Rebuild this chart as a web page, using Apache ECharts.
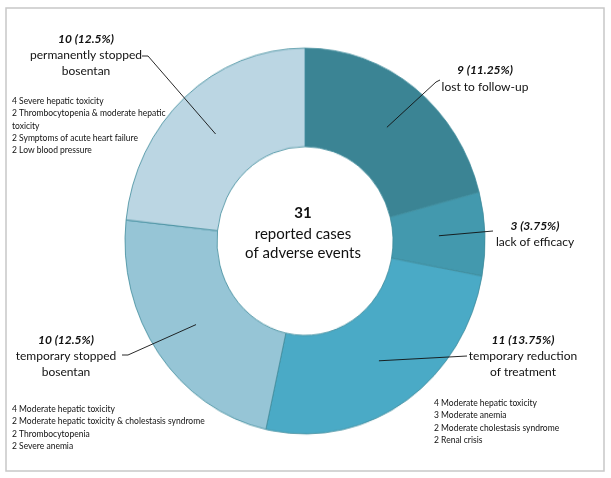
<!DOCTYPE html>
<html>
<head>
<meta charset="utf-8">
<script src="https://cdn.jsdelivr.net/npm/echarts@6/dist/echarts.min.js"></script>
<style>
html,body{margin:0;padding:0;background:#fff;}
#wrap{position:relative;width:611px;height:478px;overflow:hidden;}
#pie,#chart{position:absolute;left:0;top:0;width:611px;height:478px;}
#pie{transform-origin:305px 241px;transform:scaleY(1.072);}
</style>
</head>
<body>
<div id="wrap"><div id="pie"></div><div id="chart"></div></div>
<script>
// ---- data ----
const categories = ['lost to follow-up', 'lack of efficacy', 'temporary reduction of treatment', 'temporary stopped bosentan', 'permanently stopped bosentan'];
const counts = [9, 3, 11, 10, 10];
const percents = ['11.25%', '3.75%', '13.75%', '12.5%', '12.5%'];
const labelLines = [
  ['lost to follow-up'],
  ['lack of efficacy'],
  ['temporary reduction', 'of treatment'],
  ['temporary stopped', 'bosentan'],
  ['permanently stopped', 'bosentan']
];
const detailsReduction = ['4 Moderate hepatic toxicity', '3 Moderate anemia', '2 Moderate cholestasis syndrome', '2 Renal crisis'];
const detailsTempStopped = ['4 Moderate hepatic toxicity', '2 Moderate hepatic toxicity & cholestasis syndrome', '2 Thrombocytopenia', '2 Severe anemia'];
const detailsPermStopped = ['4 Severe hepatic toxicity', '2 Thrombocytopenia & moderate hepatic', 'toxicity', '2 Symptoms of acute heart failure', '2 Low blood pressure'];
const totalCases = 31;
const centerLines = ['reported cases', 'of adverse events'];

// ---- style / layout ----
const colors = ['#3b8494', '#4399ae', '#4aaac6', '#96c5d6', '#bbd6e3'];
const FONT = 'Lato, "Liberation Sans", sans-serif';
const cx = 305, cy = 241, rIn = 88, rOut = 180, yScale = 1.072;
const labelLayout = [
  { hx: 485, hy: 70, gap: 17, end: [[436, 82], [440, 80]] },
  { hx: 535, hy: 226, gap: 16, end: [[493, 231]] },
  { hx: 523, hy: 340, gap: 16, end: [[467, 356]] },
  { hx: 66, hy: 340, gap: 16, end: [[128, 355], [122, 355]] },
  { hx: 86, hy: 39, gap: 16, end: [[148, 56], [142, 56]] }
];
const detailBlocks = [
  { lines: detailsPermStopped, x: 12, y: 101 },
  { lines: detailsTempStopped, x: 12, y: 409 },
  { lines: detailsReduction, x: 434, y: 403 }
];

const total = counts.reduce((a, b) => a + b, 0);
const graphics = [];
graphics.push({
  type: 'rect', shape: { x: 6, y: 8, width: 598, height: 463 },
  style: { fill: 'none', stroke: '#c8c8c8', lineWidth: 1.5 }, z: 0
});
let acc = 0;
counts.forEach((v, i) => {
  const mid = (acc + v / 2) / total * Math.PI * 2;
  acc += v;
  const rm = 134;
  const sx = cx + rm * Math.sin(mid), sy = cy - rm * yScale * Math.cos(mid);
  const L = labelLayout[i];
  graphics.push({
    type: 'polyline', shape: { points: [[sx, sy]].concat(L.end) },
    style: { stroke: '#111', lineWidth: 0.9, fill: 'none' }, z: 10
  });
  graphics.push({
    type: 'text', z: 10,
    style: { text: counts[i] + ' (' + percents[i] + ')', x: L.hx, y: L.hy, textAlign: 'center', textVerticalAlign: 'middle', fill: '#111', font: 'italic bold 12px ' + FONT }
  });
  labelLines[i].forEach((t, j) => {
    graphics.push({
      type: 'text', z: 10,
      style: { text: t, x: L.hx, y: L.hy + L.gap + j * 16, textAlign: 'center', textVerticalAlign: 'middle', fill: '#111', font: '12px ' + FONT }
    });
  });
});
detailBlocks.forEach(b => {
  b.lines.forEach((t, j) => {
    graphics.push({
      type: 'text', z: 10,
      style: { text: t, x: b.x, y: b.y + j * 12.4, textAlign: 'left', textVerticalAlign: 'middle', fill: '#111', font: '8.5px ' + FONT }
    });
  });
});
graphics.push({
  type: 'text', z: 10,
  style: { text: String(totalCases), x: cx - 2, y: 213, textAlign: 'center', textVerticalAlign: 'middle', fill: '#111', font: 'bold 15px ' + FONT }
});
centerLines.forEach((t, j) => {
  graphics.push({
    type: 'text', z: 10,
    style: { text: t, x: cx - 2, y: 234 + j * 19.5, textAlign: 'center', textVerticalAlign: 'middle', fill: '#111', font: '15px ' + FONT }
  });
});

const pie = echarts.init(document.getElementById('pie'), null, { renderer: 'canvas' });
pie.setOption({
  animation: false,
  backgroundColor: '#fff',
  series: [{
    type: 'pie',
    center: [cx, cy],
    radius: [rIn, rOut],
    startAngle: 90,
    clockwise: true,
    label: { show: false },
    labelLine: { show: false },
    itemStyle: { borderColor: '#3f8c9c', borderWidth: 0.8 },
    emphasis: { disabled: true },
    data: categories.map((c, i) => ({ name: c, value: counts[i], itemStyle: { color: colors[i] } }))
  }]
});
const chart = echarts.init(document.getElementById('chart'), null, { renderer: 'canvas' });
chart.setOption({
  animation: false,
  backgroundColor: 'transparent',
  graphic: graphics
});
</script>
</body>
</html>
